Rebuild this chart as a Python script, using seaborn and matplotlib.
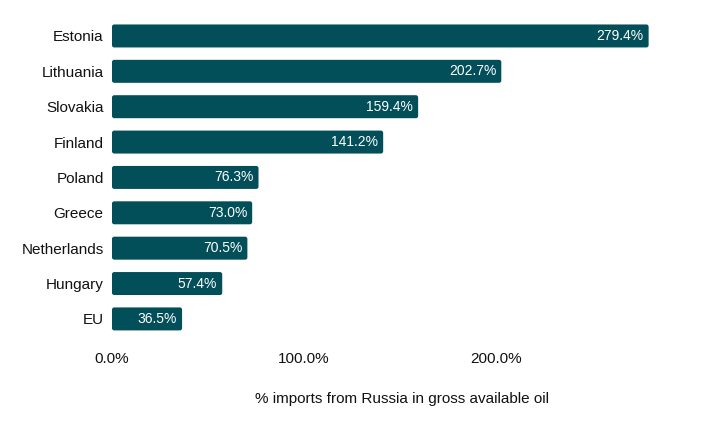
import matplotlib
matplotlib.use("Agg")
import matplotlib.pyplot as plt
from matplotlib.patches import FancyBboxPatch
import seaborn as sns
import pandas as pd

countries = ["Estonia", "Lithuania", "Slovakia", "Finland", "Poland", "Greece", "Netherlands", "Hungary", "EU"]
values = [279.4, 202.7, 159.4, 141.2, 76.3, 73.0, 70.5, 57.4, 36.5]
xticks = [0, 100, 200]
xtick_labels = ["0.0%", "100.0%", "200.0%"]

sns.set_theme(style="white")
plt.rcParams['font.family'] = ['Liberation Sans', 'DejaVu Sans']

df = pd.DataFrame({"country": countries, "value": values})

fig = plt.figure(figsize=(7.02, 4.25), dpi=100)
ax = fig.add_axes([0.1595, 0.208, 0.8263, 0.749])
sns.barplot(data=df, y="country", x="value", color="#024f5a", saturation=1,
            width=0.65, ax=ax, orient="h")
ax.set_xlim(0, 302)

# rounded corners: replace rectangles by rounded boxes of same geometry
aspect = (9.0 / (0.749 * 425)) / (302 / (0.8263 * 702))
for p in list(ax.patches):
    x0, y0, w, h = p.get_x(), p.get_y(), p.get_width(), p.get_height()
    fb = FancyBboxPatch((x0, y0), w, h,
                        boxstyle="round,pad=0,rounding_size=1.2",
                        mutation_aspect=aspect,
                        facecolor=p.get_facecolor(), edgecolor="none")
    p.set_visible(False)
    ax.add_patch(fb)

for v, i in zip(values, range(len(values))):
    ax.text(v - 2.6, i, f"{v:.1f}%", color="white", ha="right", va="center", fontsize=10)

ax.set_xticks(xticks)
ax.set_xticklabels(xtick_labels, fontsize=11, color="#111111")
ax.tick_params(axis="x", length=0, pad=11)
ax.tick_params(axis="y", length=0, pad=6, labelsize=11, labelcolor="#111111")
ax.set_ylabel("")
ax.set_xlabel("% imports from Russia in gross available oil", fontsize=11,
              color="#111111", labelpad=19)
for s in ax.spines.values():
    s.set_visible(False)

fig.savefig("out.png", dpi=100)
